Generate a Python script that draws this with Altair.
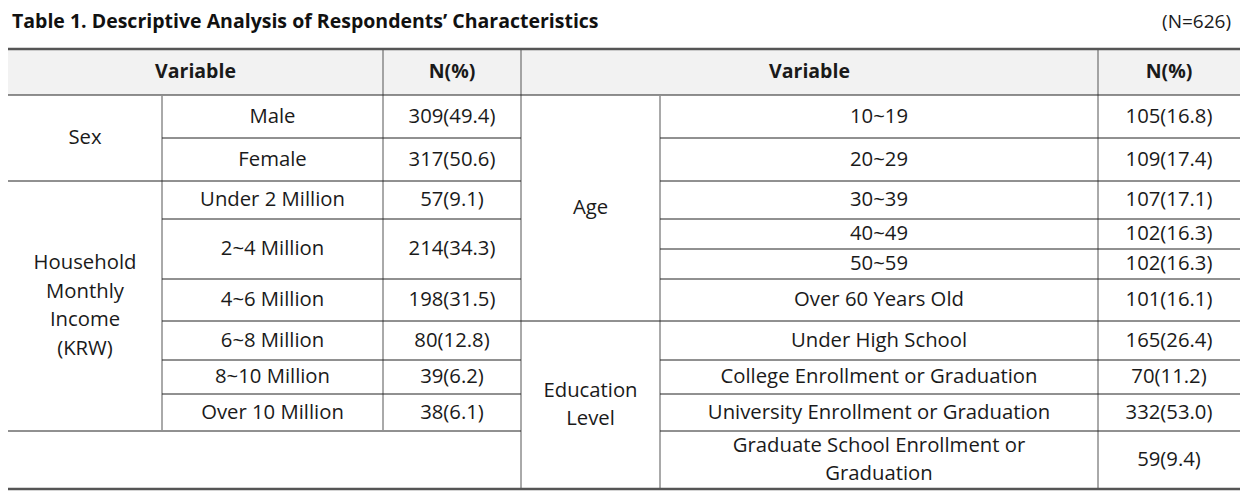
import altair as alt
import pandas as pd

# ---------------- data ----------------
title_text = "Table 1. Descriptive Analysis of Respondents\u2019 Characteristics"
n_text = "(N=626)"
header_labels = ["Variable", "N(%)"]

sex_group = "Sex"
sex_labels = ["Male", "Female"]
sex_values = ["309(49.4)", "317(50.6)"]

income_group = "Household\nMonthly\nIncome\n(KRW)"
income_labels = ["Under 2 Million", "2~4 Million", "4~6 Million",
                 "6~8 Million", "8~10 Million", "Over 10 Million"]
income_values = ["57(9.1)", "214(34.3)", "198(31.5)", "80(12.8)", "39(6.2)", "38(6.1)"]

age_group = "Age"
age_labels = ["10~19", "20~29", "30~39", "40~49", "50~59", "Over 60 Years Old"]
age_values = ["105(16.8)", "109(17.4)", "107(17.1)", "102(16.3)", "102(16.3)", "101(16.1)"]

edu_group = "Education\nLevel"
edu_labels = ["Under High School", "College Enrollment or Graduation",
              "University Enrollment or Graduation",
              "Graduate School Enrollment or\nGraduation"]
edu_values = ["165(26.4)", "70(11.2)", "332(53.0)", "59(9.4)"]

# ---------------- layout (page pixel grid) ----------------
X = [8, 162, 383, 521, 660, 1098, 1240]                      # column edges
Y = [49, 95, 138, 181, 219, 249, 279, 321, 360, 394, 431, 489]  # row edges

FONT = "Open Sans"
FS = 20.3
LH = 28.5
TXT = "#1a1a1a"

cells = []  # (text, c0, c1, r0, r1, bold)
cells += [(header_labels[0], 0, 2, 0, 1, True), (header_labels[1], 2, 3, 0, 1, True),
          (header_labels[0], 3, 5, 0, 1, True), (header_labels[1], 5, 6, 0, 1, True)]
cells.append((sex_group, 0, 1, 1, 3, False))
for i, (l, v) in enumerate(zip(sex_labels, sex_values)):
    cells += [(l, 1, 2, 1 + i, 2 + i, False), (v, 2, 3, 1 + i, 2 + i, False)]
cells.append((income_group, 0, 1, 3, 10, False))
inc_rows = [(3, 4), (4, 6), (6, 7), (7, 8), (8, 9), (9, 10)]
for (l, v), (r0, r1) in zip(zip(income_labels, income_values), inc_rows):
    cells += [(l, 1, 2, r0, r1, False), (v, 2, 3, r0, r1, False)]
cells.append((age_group, 3, 4, 1, 7, False))
for i, (l, v) in enumerate(zip(age_labels, age_values)):
    cells += [(l, 4, 5, 1 + i, 2 + i, False), (v, 5, 6, 1 + i, 2 + i, False)]
cells.append((edu_group, 3, 4, 7, 11, False))
for i, (l, v) in enumerate(zip(edu_labels, edu_values)):
    cells += [(l, 4, 5, 7 + i, 8 + i, False), (v, 5, 6, 7 + i, 8 + i, False)]

text_df = pd.DataFrame([
    {"t": t, "x": (X[c0] + X[c1]) / 2,
     "y": (Y[r0] + Y[r1]) / 2 - (t.count("\n")) * LH / 2, "bold": b}
    for t, c0, c1, r0, r1, b in cells
])

THIN, THICK = 1, 2.5
CH, CV, CK = "#222222", "#555555", "#555555"
hsegs = [(0, 0, 6, THICK, CK), (1, 0, 6, THIN, CH),
         (2, 1, 3, THIN, CH), (2, 4, 6, THIN, CH),
         (3, 0, 3, THIN, CH), (3, 4, 6, THIN, CH),
         (4, 1, 3, THIN, CH), (4, 4, 6, THIN, CH),
         (5, 4, 6, THIN, CH),
         (6, 1, 3, THIN, CH), (6, 4, 6, THIN, CH),
         (7, 1, 6, THIN, CH),
         (8, 1, 3, THIN, CH), (8, 4, 6, THIN, CH),
         (9, 1, 3, THIN, CH), (9, 4, 6, THIN, CH),
         (10, 0, 3, THIN, CH), (10, 4, 6, THIN, CH),
         (11, 0, 6, THICK, CK)]
vsegs = [(1, 1, 10), (2, 0, 10), (3, 0, 11), (4, 1, 11), (5, 0, 11)]
rules = [{"x1": X[c], "x2": X[c], "y1": Y[a] + 1, "y2": Y[b] - 1, "w": THIN, "c": CV} for c, a, b in vsegs]
rules += [{"x1": X[a], "x2": X[b], "y1": Y[r], "y2": Y[r], "w": w, "c": c} for r, a, b, w, c in hsegs]
rule_df = pd.DataFrame(rules)

bg_df = pd.DataFrame([{"x1": X[0], "x2": X[6], "y1": Y[0], "y2": Y[1]}])
top_df = pd.DataFrame([{"t": title_text, "x": 12, "y": 28},
                       {"t": n_text, "x": 1231, "y": 28}])

xs = alt.Scale(domain=[8, 1249], nice=False, zero=False)
ys = alt.Scale(domain=[8, 493], nice=False, zero=False, reverse=True)

def xq(f):
    return alt.X(f, type="quantitative", scale=xs, axis=None)

def yq(f):
    return alt.Y(f, type="quantitative", scale=ys, axis=None)

bg = alt.Chart(bg_df).mark_rect(fill="#f2f2f2").encode(
    x=xq("x1"), x2="x2", y=yq("y1"), y2="y2")

rule = alt.Chart(rule_df).mark_rule().encode(
    x=xq("x1"), x2="x2", y=yq("y1"), y2="y2",
    strokeWidth=alt.StrokeWidth("w:Q", scale=None),
    color=alt.Color("c:N", scale=None))

body = alt.Chart(text_df).transform_filter("!datum.bold").mark_text(
    font=FONT, fontSize=FS, color=TXT, lineBreak="\n", lineHeight=LH,
    align="center", baseline="middle").encode(x=xq("x"), y=yq("y"), text="t:N")

head = alt.Chart(text_df).transform_filter("datum.bold").mark_text(
    font=FONT, fontSize=19.5, fontWeight="bold", color=TXT,
    align="center", baseline="middle").encode(x=xq("x"), y=yq("y"), text="t:N")

title = alt.Chart(top_df.iloc[[0]]).mark_text(
    font=FONT, fontSize=19.5, fontWeight="bold", color="#111111",
    align="left", baseline="alphabetic").encode(x=xq("x"), y=yq("y"), text="t:N")

ntxt = alt.Chart(top_df.iloc[[1]]).mark_text(
    font=FONT, fontSize=19, color=TXT,
    align="right", baseline="alphabetic").encode(x=xq("x"), y=yq("y"), text="t:N")

chart = alt.layer(bg, rule, body, head, title, ntxt).properties(
    width=1241, height=485, padding=0,
    autosize=alt.AutoSizeParams(type="none"),
    background="white",
).configure_view(stroke=None)

chart.save("out.html", embed_options={"renderer": "svg", "actions": False})
